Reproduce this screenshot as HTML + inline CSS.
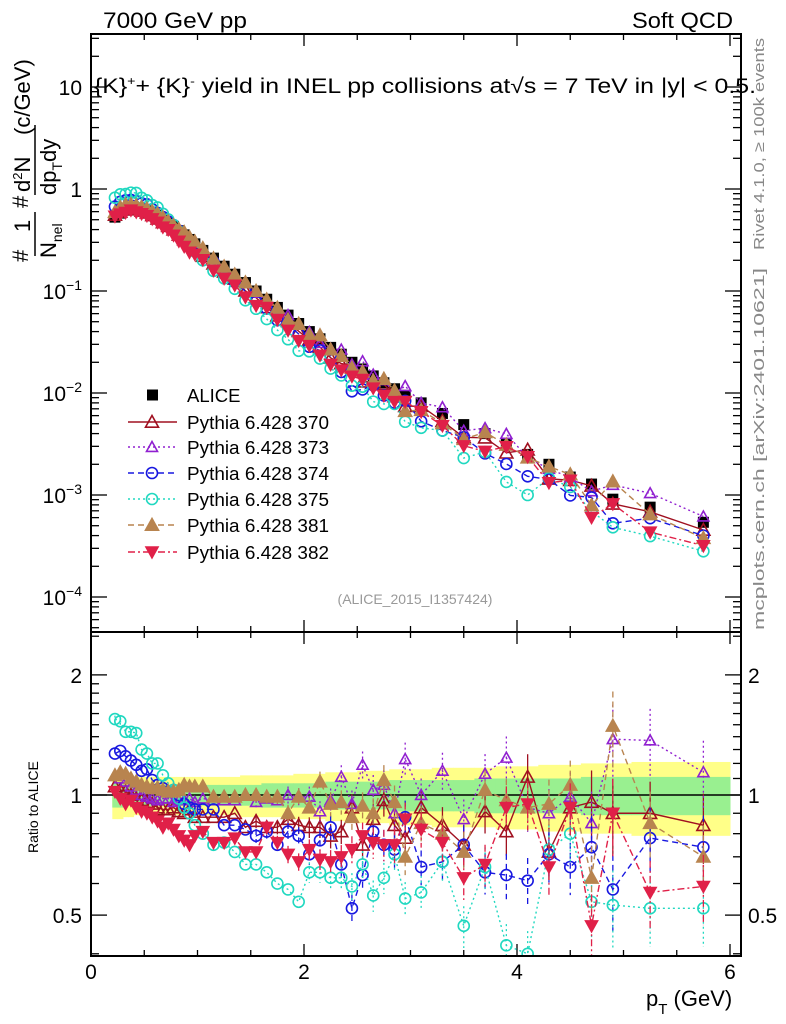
<!DOCTYPE html>
<html><head><meta charset="utf-8"><style>
html,body{margin:0;padding:0;background:#fff;}
svg{display:block;font-family:"Liberation Sans",Arial,sans-serif;}
</style></head><body>
<svg id="c" width="786" height="1024" viewBox="0 0 786 1024" xmlns="http://www.w3.org/2000/svg">
<defs>
<clipPath id="cm"><rect x="91" y="34" width="650" height="598"/></clipPath>
<clipPath id="cr"><rect x="91" y="632" width="650" height="324"/></clipPath>
</defs>
<text x="103" y="28" font-size="22" textLength="144" lengthAdjust="spacingAndGlyphs">7000 GeV pp</text>
<text x="632" y="28" font-size="22" textLength="101" lengthAdjust="spacingAndGlyphs">Soft QCD</text>
<text x="94" y="93" font-size="21" textLength="662" lengthAdjust="spacingAndGlyphs">{K}<tspan dy="-8" font-size="12">+</tspan><tspan dy="8">+ {K}</tspan><tspan dy="-8" font-size="12">-</tspan><tspan dy="8"> yield in INEL pp collisions at√s =  7 TeV in |y| &lt; 0.5.</tspan></text>
<text transform="translate(764,250) rotate(-90)" font-size="15" fill="#888" textLength="212" lengthAdjust="spacingAndGlyphs">Rivet 4.1.0, ≥ 100k events</text>
<text transform="translate(764,630) rotate(-90)" font-size="15" fill="#888" textLength="362" lengthAdjust="spacingAndGlyphs">mcplots.cern.ch [arXiv:2401.10621]</text>
<text x="415" y="604" font-size="14" fill="#999" text-anchor="middle">(ALICE_2015_I1357424)</text>
<g>
<text transform="translate(28,262) rotate(-90)" font-size="22">#</text>
<text transform="translate(30,232) rotate(-90)" font-size="22">1</text>
<line x1="35" y1="212" x2="35" y2="256" stroke="#000" stroke-width="1.5"/>
<text transform="translate(56,258) rotate(-90)" font-size="22">N<tspan dy="6" font-size="14">nel</tspan></text>
<text transform="translate(28,208) rotate(-90)" font-size="22">#</text>
<text transform="translate(30,192) rotate(-90)" font-size="22">d<tspan dy="-8" font-size="13">2</tspan><tspan dy="8">N</tspan></text>
<line x1="35" y1="125" x2="35" y2="195" stroke="#000" stroke-width="1.5"/>
<text transform="translate(56,195) rotate(-90)" font-size="22">dp<tspan dy="6" font-size="14">T</tspan><tspan dy="-6">dy</tspan></text>
<text transform="translate(30,135) rotate(-90)" font-size="22">(c/GeV)</text>
</g>
<text transform="translate(38,853) rotate(-90)" font-size="14">Ratio to ALICE</text>
<text x="646" y="1006" font-size="22">p<tspan dy="8" font-size="15">T</tspan><tspan dy="-8"> (GeV)</tspan></text>
<g id="axes"></g>
<g id="bands" clip-path="url(#cr)"></g>
<g id="mainplot" clip-path="url(#cm)"></g>
<g id="ratioplot" clip-path="url(#cr)"></g>
<g id="legend"></g>
<rect x="91" y="34" width="650" height="598" fill="none" stroke="#000" stroke-width="2"/>
<rect x="91" y="632" width="650" height="324" fill="none" stroke="#000" stroke-width="2"/>
</svg>
<script>
const pt=[0.225,0.275,0.325,0.375,0.425,0.475,0.525,0.575,0.625,0.675,0.725,0.775,0.825,0.875,0.925,0.975,
1.05,1.15,1.25,1.35,1.45,1.55,1.65,1.75,1.85,1.95,
2.05,2.15,2.25,2.35,2.45,2.55,2.65,2.75,2.85,2.95,
3.1,3.3,3.5,3.7,3.9,4.1,4.3,4.5,4.7,4.9,5.25,5.75];
const alice=[0.53,0.58,0.62,0.64,0.64,0.63,0.61,0.58,0.55,0.51,0.47,0.43,0.39,0.355,0.32,0.29,
0.25,0.21,0.175,0.146,0.121,0.100,0.083,0.069,0.058,0.048,
0.040,0.034,0.028,0.024,0.020,0.0172,0.0147,0.0126,0.0110,0.0095,
0.0080,0.0063,0.0049,0.0040,0.0032,0.0025,0.0020,0.0015,0.00128,0.00091,0.00076,0.00054];
const bandOuter=[0.13,0.13,0.12,0.12,0.11,0.11,0.11,0.11,0.11,0.11,0.11,0.11,0.11,0.11,0.11,0.11,
0.11,0.11,0.11,0.11,0.12,0.12,0.12,0.12,0.12,0.13,
0.13,0.13,0.14,0.14,0.14,0.15,0.15,0.15,0.16,0.16,
0.16,0.17,0.17,0.17,0.18,0.18,0.19,0.19,0.2,0.2,0.21,0.21];
const bandInner=[0.07,0.07,0.06,0.06,0.06,0.06,0.06,0.06,0.06,0.06,0.06,0.06,0.06,0.06,0.06,0.06,
0.06,0.06,0.06,0.06,0.06,0.06,0.07,0.07,0.07,0.07,
0.07,0.07,0.08,0.08,0.08,0.08,0.08,0.08,0.09,0.09,
0.09,0.09,0.09,0.1,0.1,0.1,0.1,0.1,0.11,0.11,0.11,0.11];
const r370=[1.05,1.03,1.02,1.0,0.98,0.97,0.96,0.95,0.93,0.92,0.92,0.93,0.91,0.90,0.92,0.88,
0.88,0.88,0.88,0.90,0.83,0.86,0.83,0.83,0.87,0.84,
0.83,0.83,0.79,0.81,0.93,0.75,0.87,0.97,0.84,0.78,
0.93,0.84,0.75,0.91,0.81,1.11,0.72,0.93,0.96,0.90,0.90,0.84];
const r373=[1.12,1.10,1.08,1.05,1.03,1.0,0.99,0.98,0.97,0.98,0.98,0.96,0.97,0.97,0.98,0.96,
0.98,0.97,0.97,0.97,1.0,0.96,0.98,0.97,1.0,0.99,
0.99,0.91,0.97,1.11,0.95,1.19,1.03,1.06,0.90,1.23,
1.0,1.15,0.87,1.13,1.24,0.93,0.90,0.99,0.85,1.38,1.37,1.14];
const r374=[1.27,1.29,1.25,1.22,1.19,1.15,1.16,1.09,1.06,1.04,1.02,1.03,1.0,0.95,0.93,0.92,
0.92,0.92,0.84,0.84,0.82,0.79,0.81,0.75,0.81,0.79,
0.71,0.77,0.83,0.67,0.52,0.63,0.81,0.75,0.73,0.88,
0.66,0.68,0.75,0.64,0.63,0.61,0.71,0.66,0.74,0.58,0.78,0.74];
const r375=[1.55,1.53,1.44,1.44,1.43,1.30,1.27,1.20,1.20,1.12,1.07,1.03,0.98,0.93,0.90,0.84,
0.80,0.75,0.76,0.72,0.67,0.67,0.64,0.60,0.58,0.54,
0.64,0.64,0.62,0.62,0.59,0.67,0.56,0.62,0.71,0.55,
0.57,0.68,0.47,0.66,0.42,0.40,0.73,0.80,0.54,0.53,0.52,0.52];
const r381=[1.12,1.14,1.13,1.10,1.08,1.06,1.05,1.04,1.04,1.03,1.02,1.02,1.03,1.06,1.05,1.05,
1.05,0.99,0.99,0.99,1.0,1.0,0.99,0.99,0.90,0.99,
0.93,1.08,0.95,0.96,0.88,0.94,0.90,1.09,0.96,0.70,
0.85,0.80,0.72,1.03,0.97,0.93,0.95,1.06,0.62,1.49,0.85,0.70];
const r382=[1.02,0.98,0.95,0.97,0.93,0.91,0.90,0.88,0.86,0.83,0.85,0.82,0.79,0.77,0.75,0.79,
0.81,0.76,0.76,0.78,0.72,0.72,0.83,0.76,0.71,0.68,
0.73,0.69,0.68,0.70,0.73,0.79,0.76,0.75,0.75,0.87,
0.82,0.76,0.62,0.67,0.93,0.95,0.66,0.93,0.47,0.90,0.57,0.59];
const relErr=[0.02,0.02,0.02,0.02,0.02,0.02,0.02,0.02,0.02,0.02,0.02,0.02,0.02,0.02,0.02,0.02,
0.02,0.03,0.03,0.03,0.03,0.04,0.04,0.04,0.05,0.05,
0.06,0.06,0.07,0.07,0.08,0.08,0.09,0.09,0.1,0.1,
0.1,0.11,0.12,0.12,0.13,0.14,0.15,0.15,0.2,0.22,0.2,0.2];
const seriesNames=["Pythia 6.428 370","Pythia 6.428 373","Pythia 6.428 374","Pythia 6.428 375","Pythia 6.428 381","Pythia 6.428 382"];

const NS="http://www.w3.org/2000/svg";
const X=p=>91+p*106.5;
const YM=v=>189-102*Math.log10(v);
const YR=r=>795-399*Math.log10(r);
function mk(tag,attrs,parent){const e=document.createElementNS(NS,tag);for(const k in attrs)e.setAttribute(k,attrs[k]);parent.appendChild(e);return e;}
const axes=document.getElementById('axes');
for(let i=0;i<=12;i++){const p=i*0.5;const x=X(p);const L=(i%4===0)?12:6;
 [[34,1],[632,-1],[632,1],[956,-1]].forEach(([y,d])=>{const t=mk('line',{x1:x,x2:x,y1:y,y2:y+d*L,stroke:'#000','stroke-width':1.3},axes);});
 if(i%4===0){const t=mk('text',{x:x,y:979,'font-size':21,'text-anchor':'middle'},axes);t.textContent=String(p);}
}
for(let e=-5;e<=1;e++){for(let m=1;m<10;m++){const v=m*Math.pow(10,e);const y=YM(v);if(y<34||y>632)continue;const L=m===1?16:8;
 [[91,1],[741,-1]].forEach(([x,d])=>{const t=mk('line',{x1:x,x2:x+d*L,y1:y,y2:y,stroke:'#000','stroke-width':1.3},axes);});
 if(m===1){const t=mk('text',{x:82,y:y+8,'font-size':21,'text-anchor':'end'},axes);
  if(e===0)t.textContent='1';else if(e===1)t.textContent='10';else{t.innerHTML='10<tspan dy="-9" font-size="14">−'+(-e)+'</tspan>';}}
}}
const rt=[0.4,0.5,0.6,0.7,0.8,0.9,1.0,1.1,1.2,1.3,1.4,1.5,1.6,1.7,1.8,1.9,2.0,2.5];
rt.forEach(r=>{const y=YR(r);if(y<632||y>956)return;const maj=(r===0.5||r===1||r===2);const L=maj?16:8;
 [[91,1],[741,-1]].forEach(([x,d])=>{const t=mk('line',{x1:x,x2:x+d*L,y1:y,y2:y,stroke:'#000','stroke-width':1.3},axes);});
 if(maj){[[82,'end'],[748,'start']].forEach(([x,a])=>{const t=mk('text',{x:x,y:y+8,'font-size':21,'text-anchor':a},axes);t.textContent=String(r);});}
});
const bands=document.getElementById('bands');
const edges=[0.2];for(let i=0;i<pt.length-1;i++)edges.push((pt[i]+pt[i+1])/2);edges.push(6.0);
for(let i=0;i<pt.length;i++){const x0=X(edges[i]),x1=X(edges[i+1]);
 const yo=mk('rect',{x:x0,y:YR(1+bandOuter[i]),width:x1-x0+0.5,height:YR(1-bandOuter[i])-YR(1+bandOuter[i]),fill:'#ffff88'},bands);
 
}
for(let i=0;i<pt.length;i++){const x0=X(edges[i]),x1=X(edges[i+1]);
 const g=mk('rect',{x:x0,y:YR(1+bandInner[i]),width:x1-x0+0.5,height:YR(1-bandInner[i])-YR(1+bandInner[i]),fill:'#99f090'},bands);
 
}
const one=mk('line',{x1:91,x2:741,y1:YR(1),y2:YR(1),stroke:'#000','stroke-width':1.5},bands);


const styles=[
 {c:'#a01020',dash:'',m:'tri',fill:false},
 {c:'#9020d0',dash:'2,3',m:'tri',fill:false,small:true},
 {c:'#1818e0',dash:'6,4',m:'circ',fill:false},
 {c:'#20d8c0',dash:'2,3',m:'circ',fill:false},
 {c:'#b8844f',dash:'6,4',m:'tri',fill:true},
 {c:'#e02048',dash:'7,3,2,3',m:'dtri',fill:true}];
const ratios=[r370,r373,r374,r375,r381,r382];
function marker(g,st,x,y){
 if(st.m==='circ')return mk('circle',{cx:x,cy:y,r:5.5,fill:'none',stroke:st.c,'stroke-width':1.6},g);
 const h=st.small?5.5:6.5;
 if(st.m==='tri')return mk('polygon',{points:`${x},${y-h} ${x-h},${y+h*0.8} ${x+h},${y+h*0.8}`,fill:st.fill?st.c:'none',stroke:st.c,'stroke-width':1.6},g);
 return mk('polygon',{points:`${x},${y+h} ${x-h},${y-h*0.8} ${x+h},${y-h*0.8}`,fill:st.c,stroke:st.c,'stroke-width':1},g);
}
const mainG=document.getElementById('mainplot');
const ratioG=document.getElementById('ratioplot');
alice.forEach((v,i)=>{const r=mk('rect',{x:X(pt[i])-5.5,y:YM(v)-5.5,width:11,height:11,fill:'#000'},mainG);
 });
ratios.forEach((rr,k)=>{const st=styles[k];
 const vals=rr.map((r,i)=>alice[i]*r);
 const pm=mk('polyline',{points:vals.map((v,i)=>X(pt[i])+','+YM(v)).join(' '),fill:'none',stroke:st.c,'stroke-width':1.4,'stroke-dasharray':st.dash},mainG);
 
 vals.forEach((v,i)=>{const m=marker(mainG,st,X(pt[i]),YM(v));});
 const pr=mk('polyline',{points:rr.map((r,i)=>X(pt[i])+','+YR(r)).join(' '),fill:'none',stroke:st.c,'stroke-width':1.4,'stroke-dasharray':st.dash},ratioG);
 
 rr.forEach((r,i)=>{const x=X(pt[i]);const e=relErr[i]*r;
  if(e>0.03){const eb=mk('line',{x1:x,x2:x,y1:YR(r+e),y2:YR(Math.max(r-e,0.05)),stroke:st.c,'stroke-width':1.3,'stroke-dasharray':st.dash},ratioG);
   }
  const m=marker(ratioG,st,x,YR(r));});
});
const lg=document.getElementById('legend');
const ly=[395,422,447,473,499,525,552];
const la=mk('rect',{x:147,y:ly[0]-5.5,width:11,height:11,fill:'#000'},lg);

const lt=mk('text',{x:187,y:ly[0]+7,'font-size':18.5},lg);lt.textContent='ALICE';

styles.forEach((st,k)=>{const y=ly[k+1];
 const l=mk('line',{x1:128,x2:177,y1:y,y2:y,stroke:st.c,'stroke-width':1.4,'stroke-dasharray':st.dash},lg);
 
 const m=marker(lg,st,152,y);
 const t=mk('text',{x:187,y:y+7,'font-size':18.5,textLength:142,lengthAdjust:'spacingAndGlyphs'},lg);t.textContent=seriesNames[k];
 
});
</script>
</body></html>
